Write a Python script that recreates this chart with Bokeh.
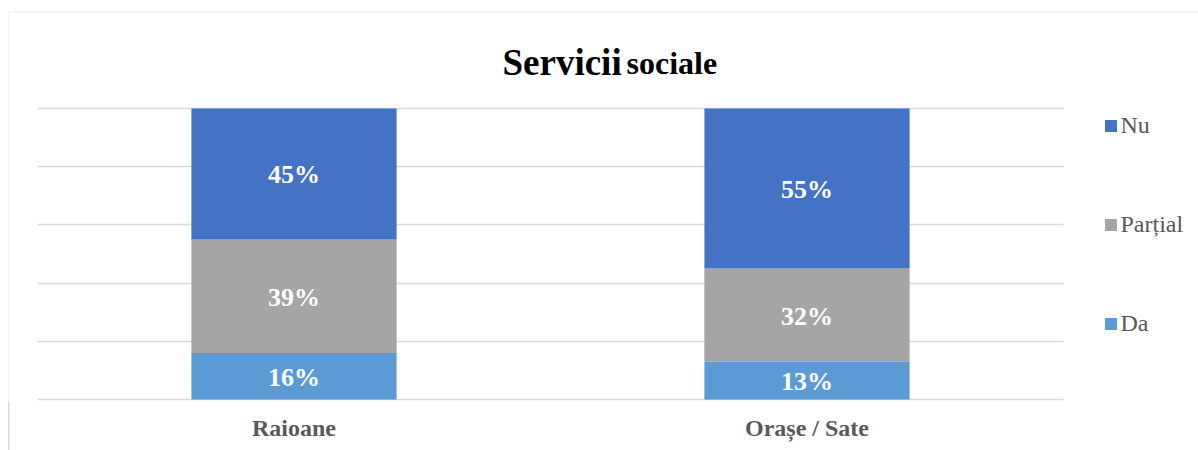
from bokeh.plotting import figure
from bokeh.models import (ColumnDataSource, LabelSet, Label, BoxAnnotation, Legend,
                          LegendItem, FixedTicker, Range1d)
from bokeh.core.properties import value
from bokeh.embed import file_html
from bokeh.resources import INLINE

categories = ["Raioane", "Orașe / Sate"]
series = ["Da", "Parțial", "Nu"]
da = [16, 13]
partial = [39, 32]
nu = [45, 55]
colors = ["#5B9BD5", "#A5A5A5", "#4472C4"]
grid_ticks = [0, 20, 40, 60, 80, 100]

FONT = "Liberation Serif"

xs = [i + 0.5 for i in range(len(categories))]
src = ColumnDataSource(dict(x=xs, cat=categories, Da=da, **{"Parțial": partial}, Nu=nu))

# frame spans the whole canvas (except the bottom axis panel); the ranges place the
# plotting area at 37..1063 px horizontally and 108..399 px vertically
xr = Range1d(-0.07212, 2.26316)
yr = Range1d(-0.687, 137.11)

p = figure(x_range=xr, y_range=yr,
           width=1198, height=450, output_backend="svg", toolbar_location=None,
           y_axis_location=None,
           min_border_left=0, min_border_right=0, min_border_top=0, min_border_bottom=49)
p.outline_line_color = None
p.background_fill_color = "white"
p.border_fill_color = None
# continuation of the chart-area border on the left, below the plotting frame
p.styles = {
    "background-color": "white",
    "background-image": "linear-gradient(#D9D9D9, #D9D9D9)",
    "background-size": "1.5px 49px",
    "background-position": "7.5px 401px",
    "background-repeat": "no-repeat",
}

renderers = p.vbar_stack(series, x="x", width=0.4, color=colors, line_color=None, source=src)

p.xgrid.grid_line_color = None
p.ygrid.ticker = FixedTicker(ticks=grid_ticks)
p.ygrid.grid_line_color = "#D9D9D9"
p.ygrid.grid_line_width = 1.5
p.ygrid.cross_bounds = (0, len(categories))

ax = p.xaxis[0]
ax.ticker = FixedTicker(ticks=xs)
ax.major_label_overrides = {x: c for x, c in zip(xs, categories)}
ax.axis_line_color = None
ax.major_tick_line_color = None
ax.minor_tick_line_color = None
ax.major_label_text_font = FONT
ax.major_label_text_font_size = "24px"
ax.major_label_text_font_style = "bold"
ax.major_label_text_color = "#595959"
ax.major_label_standoff = 7

# data labels
lx, ly, lt = [], [], []
for i, c in enumerate(categories):
    base = 0
    for vals in (da, partial, nu):
        v = vals[i]
        lx.append(xs[i])
        ly.append(base + v / 2)
        lt.append(f"{v}%")
        base += v
lsrc = ColumnDataSource(dict(x=lx, y=ly, t=lt))
p.add_layout(LabelSet(x="x", y="y", text="t", source=lsrc, text_align="center",
                      text_baseline="middle", text_color="white", text_font=value(FONT),
                      text_font_size="26px", text_font_style="bold", y_offset=-1))

# legend
items = [LegendItem(label=s, renderers=[r]) for s, r in zip(series, renderers)][::-1]
legend = Legend(items=items, location=(1102.5, 64.5), border_line_color=None,
                background_fill_alpha=0, padding=0, margin=0, spacing=72,
                glyph_width=15, glyph_height=15, label_height=15, label_standoff=3,
                label_text_font=FONT, label_text_font_size="24px",
                label_text_color="#595959", label_text_baseline="middle")
p.add_layout(legend)

# title
p.add_layout(Label(x=502, y=339, x_units="screen", y_units="screen", text="Servicii",
                   text_font=FONT, text_font_size="37px", text_font_style="bold",
                   text_color="black", text_baseline="alphabetic", text_align="left"))
p.add_layout(Label(x=626, y=339, x_units="screen", y_units="screen", text="sociale",
                   text_font=FONT, text_font_size="32px", text_font_style="bold",
                   text_color="black", text_baseline="alphabetic", text_align="left"))

# chart border
p.add_layout(BoxAnnotation(left=8.25, right=5000, top=11.5, bottom=5000,
                           left_units="canvas", right_units="canvas",
                           top_units="canvas", bottom_units="canvas",
                           fill_alpha=0, line_color="#D9D9D9", line_width=1.5))

open("out.html", "w").write(file_html(p, INLINE))
